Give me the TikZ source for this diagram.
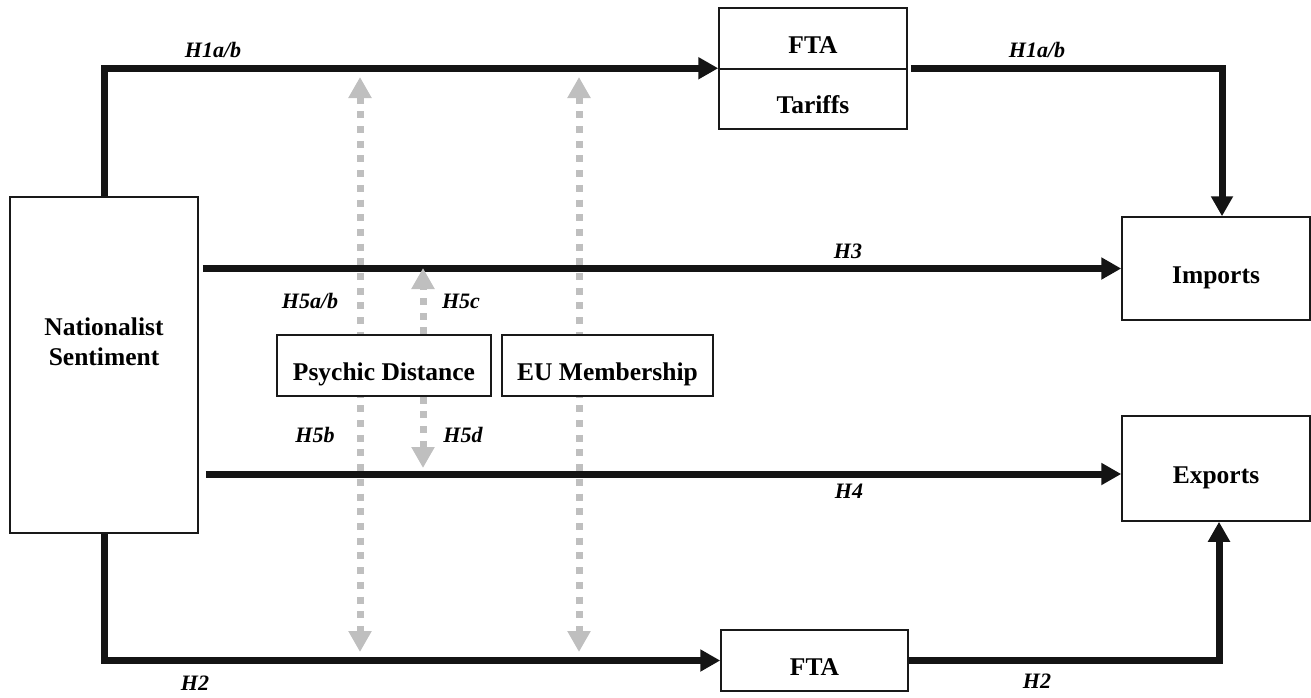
\documentclass[tikz,border=0pt]{standalone}
\usepackage{fontspec}
\setmainfont{Liberation Serif}
\usetikzlibrary{arrows.meta}
\pgfdeclarelayer{bg}
\pgfdeclarelayer{mid}
\pgfsetlayers{bg,mid,main}
\begin{document}
\begin{tikzpicture}[x=1pt,y=-1pt,
  box/.style={draw=black!90, line width=1.5pt, fill=white, inner sep=2pt,
    font=\fontsize{25.5}{30}\selectfont\bfseries, text height=35pt, text depth=6pt},
  hyp/.style={font=\fontsize{22}{26}\selectfont\bfseries\itshape, anchor=base, inner sep=0pt},
  blk/.style={line width=7pt, draw=black!92, -{Triangle[width=21pt,length=20pt]}},
  gdot/.style={line width=7pt, draw=gray!50, dash pattern=on 7pt off 7.7pt},
  gtip/.style={Triangle[width=22pt,length=21pt]}
]
\useasboundingbox (0,0) rectangle (1311,697);

% boxes
\node[box, minimum width=188pt, minimum height=336pt, align=center,
      text height=30pt, text depth=30pt] (ns) at (104,365) {Nationalist\\Sentiment};
\node[box, minimum width=188pt, minimum height=61pt] (fta) at (813,38.5) {FTA};
\node[box, minimum width=188pt, minimum height=60pt] (tar) at (813,99) {Tariffs};
\node[box, minimum width=188pt, minimum height=103pt] (imp) at (1216,268.5) {Imports};
\node[box, minimum width=188pt, minimum height=105pt] (exp) at (1216,468.5) {Exports};
\node[box, minimum width=214pt, minimum height=61pt] (psy) at (384,365.5) {Psychic Distance};
\node[box, minimum width=211pt, minimum height=61pt] (eu) at (607.5,365.5) {EU Membership};
\node[box, minimum width=187pt, minimum height=61pt] (fta2) at (814.5,660.5) {FTA};

% coordinates for free ends
\coordinate (h4e) at ([yshift=-5.5pt]exp.west);
\coordinate (pdt) at (360,77);
\coordinate (pdb) at (360,652);
\coordinate (eut) at (579,77);
\coordinate (eub) at (579,652);
\coordinate (h5ct) at (423,268);
\coordinate (h5db) at (423,468);

% black connectors
\begin{pgfonlayer}{bg}
\draw[blk] (ns.north) |- (tar.north west);
\draw[blk] ([xshift=3pt]tar.north east) -| ([xshift=6pt]imp.north);
\draw[blk] (ns.east |- imp.west) ++(4,0) -- (imp.west);
\draw[blk] (ns.east |- h4e) ++(7,0) -- (h4e);
\draw[blk] (ns.south) |- (fta2.west);
\draw[blk] (fta2.east) -| ([xshift=3pt]exp.south);
\end{pgfonlayer}

% grey dotted moderators
\begin{pgfonlayer}{mid}
\draw[gdot, {Triangle[width=22pt,length=21pt]}-{Triangle[width=22pt,length=21pt]}] (pdt) -- (pdb);
\draw[gdot, {Triangle[width=22pt,length=21pt]}-{Triangle[width=22pt,length=21pt]}] (eut) -- (eub);
\draw[gdot, -{Triangle[width=22pt,length=21pt]}] ([xshift=39pt]psy.north) -- (h5ct);
\draw[gdot, -{Triangle[width=22pt,length=21pt]}] ([xshift=39pt]psy.south) -- (h5db);
\end{pgfonlayer}

% hypothesis labels
\node[hyp] (l1) at (213,57) {H1a/b};
\node[hyp] (l2) at (1037,57) {H1a/b};
\node[hyp] (l3) at (848,258) {H3};
\node[hyp] (l4) at (849,498) {H4};
\node[hyp] (l5) at (310,308) {H5a/b};
\node[hyp] (l6) at (461,308) {H5c};
\node[hyp] (l7) at (315,442) {H5b};
\node[hyp] (l8) at (463,442) {H5d};
\node[hyp] (l9) at (195,690) {H2};
\node[hyp] (l10) at (1037,688) {H2};
\end{tikzpicture}
\end{document}
